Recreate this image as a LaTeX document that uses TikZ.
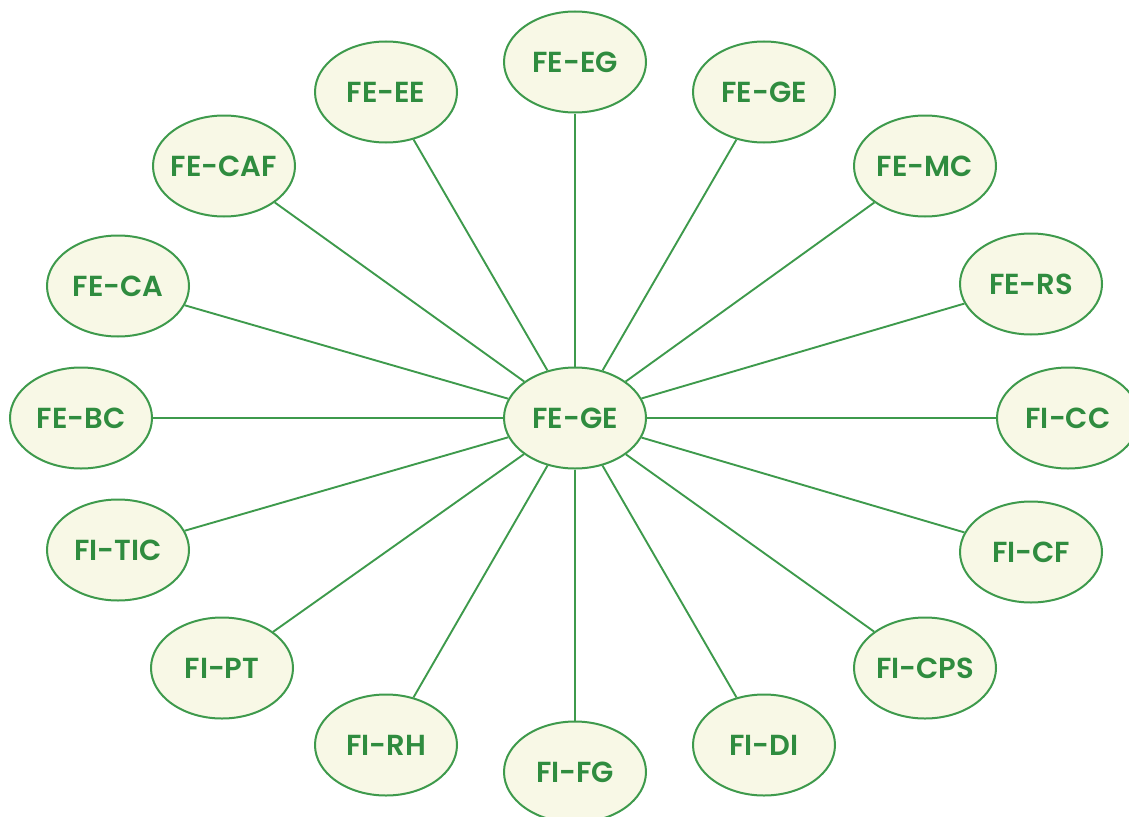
\documentclass[tikz,border=0pt]{standalone}
\usepackage{fontspec}
\setmainfont{Poppins SemiBold}
\usetikzlibrary{shapes.geometric}
\definecolor{ringgreen}{HTML}{3E9A4C}
\definecolor{txtgreen}{HTML}{2F8C3F}
\definecolor{cream}{HTML}{F8F8E6}
\tikzset{
  bub/.style={ellipse, draw=ringgreen, line width=2pt, fill=cream,
    minimum width=142pt, minimum height=101pt, inner ysep=0pt, inner xsep=-18pt,
    text=txtgreen, font=\fontsize{29}{32}\selectfont},
  link/.style={draw=ringgreen, line width=1.9pt}
}
\begin{document}
\begin{tikzpicture}[x=1pt,y=-1pt]
\useasboundingbox (0,0) rectangle (1129,816);
\clip (0,0) rectangle (1129,816);
\node[bub] (c) at (575,418) {FE-GE};
\node[bub] (n1) at (575,62) {FE-EG};
\node[bub] (n2) at (764,92) {FE-GE};
\node[bub] (n3) at (925,166) {FE-MC};
\node[bub] (n4) at (1031,284) {FE-RS};
\node[bub] (n5) at (1068,418) {FI-CC};
\node[bub] (n6) at (1031,552) {FI-CF};
\node[bub] (n7) at (925,668) {FI-CPS};
\node[bub] (n8) at (764,745) {FI-DI};
\node[bub] (n9) at (575,772) {FI-FG};
\node[bub] (n10) at (386,745) {FI-RH};
\node[bub] (n11) at (222,668) {FI-PT};
\node[bub] (n12) at (118,550) {FI-TIC};
\node[bub] (n13) at (81,418) {FE-BC};
\node[bub] (n14) at (118,286) {FE-CA};
\node[bub] (n15) at (224,166) {FE-CAF};
\node[bub] (n16) at (386,92) {FE-EE};
\foreach \i in {1,...,16} { \draw[link] (c) -- (n\i); }
\end{tikzpicture}
\end{document}
